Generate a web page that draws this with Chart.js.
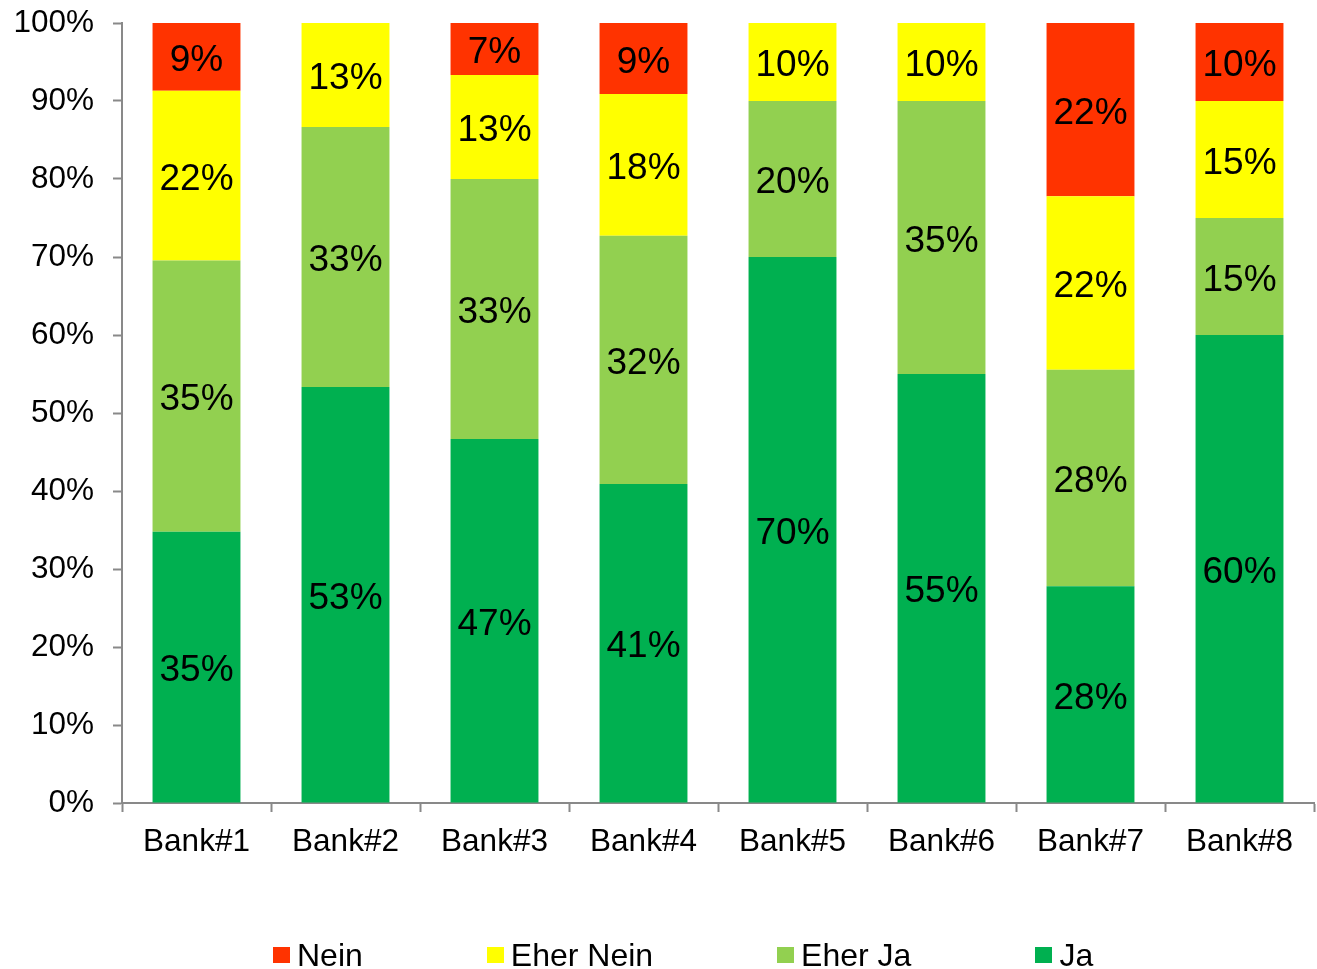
<!DOCTYPE html>
<html lang="de">
<head>
<meta charset="utf-8">
<title>Bankumfrage</title>
<script src="https://cdn.jsdelivr.net/npm/chart.js@4/dist/chart.umd.min.js"></script>
<style>
  html, body { margin: 0; padding: 0; background: #fff; }
  #wrap { position: relative; width: 1317px; height: 969px; }
  #legend {
    position: absolute; left: 273px; top: 939px; height: 32px;
    display: flex; align-items: center; gap: 124px;
    font-family: "Liberation Sans", Arial, sans-serif; font-size: 32px; line-height: 32px; color: #000;
  }
  #legend .item { display: flex; align-items: center; white-space: nowrap; }
  #legend .box { width: 17px; height: 16px; margin-right: 7px; }
</style>
</head>
<body>
<div id="wrap">
  <canvas id="chart" width="1317" height="969"></canvas>
  <div id="legend"></div>
</div>
<script>
// Antworten je Bank (Anteile in %)
const banks = ["Bank#1", "Bank#2", "Bank#3", "Bank#4", "Bank#5", "Bank#6", "Bank#7", "Bank#8"];
const ja       = [34.78, 53.33, 46.67, 40.91, 70, 55, 27.78, 60];
const eherJa   = [34.78, 33.33, 33.33, 31.82, 20, 35, 27.78, 15];
const eherNein = [21.74, 13.34, 13.33, 18.18, 10, 10, 22.22, 15];
const nein     = [8.70, 0, 6.67, 9.09, 0, 0, 22.22, 10];
const yTicks   = [0, 10, 20, 30, 40, 50, 60, 70, 80, 90, 100];

const FONT = "'Liberation Sans', Arial, sans-serif";
const AXIS = "#898989";

// Prozentwerte mittig in jedes Segment schreiben
const segmentLabels = {
  id: "segmentLabels",
  afterDatasetsDraw(chart) {
    const ctx = chart.ctx;
    ctx.save();
    ctx.font = "37px " + FONT;
    ctx.fillStyle = "#000";
    ctx.textAlign = "center";
    ctx.textBaseline = "middle";
    chart.data.datasets.forEach((ds, di) => {
      chart.getDatasetMeta(di).data.forEach((bar, i) => {
        const v = ds.data[i];
        if (!v) return;
        const p = bar.getProps(["x", "y", "base"], true);
        ctx.fillText(Math.round(v) + "%", p.x, (p.y + p.base) / 2 + 4);
      });
    });
    ctx.restore();
  }
};

const chart = new Chart(document.getElementById("chart"), {
  type: "bar",
  data: {
    labels: banks,
    datasets: [
      { label: "Ja",        data: ja,       backgroundColor: "#00B050" },
      { label: "Eher Ja",   data: eherJa,   backgroundColor: "#92D050" },
      { label: "Eher Nein", data: eherNein, backgroundColor: "#FFFF00" },
      { label: "Nein",      data: nein,     backgroundColor: "#FF3300" }
    ]
  },
  options: {
    responsive: false,
    animation: false,
    datasets: { bar: { categoryPercentage: 1, barPercentage: 0.59, borderWidth: 0 } },
    layout: { padding: { top: 23, right: 3, left: 0, bottom: 106 } },
    plugins: { legend: { display: false }, tooltip: { enabled: false } },
    scales: {
      x: {
        stacked: true,
        grid: { offset: true, drawOnChartArea: false, drawTicks: true, tickLength: 9, tickColor: AXIS, tickWidth: 2 },
        border: { color: AXIS, width: 2 },
        ticks: { font: { family: FONT, size: 31.5 }, color: "#000", padding: 11, maxRotation: 0 },
        afterFit(s) { s.height = 60; s.paddingLeft = 0; s.paddingRight = 0; }
      },
      y: {
        stacked: true,
        min: 0, max: 100,
        afterBuildTicks(s) { s.ticks = yTicks.map(v => ({ value: v })); },
        grid: { drawOnChartArea: false, drawTicks: true, tickLength: 9, tickColor: AXIS, tickWidth: 2 },
        border: { color: AXIS, width: 2 },
        ticks: { font: { family: FONT, size: 31.5 }, color: "#000", padding: 19, callback: v => v + "%" },
        afterFit(s) { s.width = 122; s.paddingTop = 0; s.paddingBottom = 0; }
      }
    }
  },
  plugins: [segmentLabels]
});

// Legende in umgekehrter Stapelreihenfolge
const legend = document.getElementById("legend");
chart.data.datasets.slice().reverse().forEach(ds => {
  const item = document.createElement("div");
  item.className = "item";
  const box = document.createElement("span");
  box.className = "box";
  box.style.background = ds.backgroundColor;
  const txt = document.createElement("span");
  txt.textContent = ds.label;
  item.appendChild(box);
  item.appendChild(txt);
  legend.appendChild(item);
});
</script>
</body>
</html>
